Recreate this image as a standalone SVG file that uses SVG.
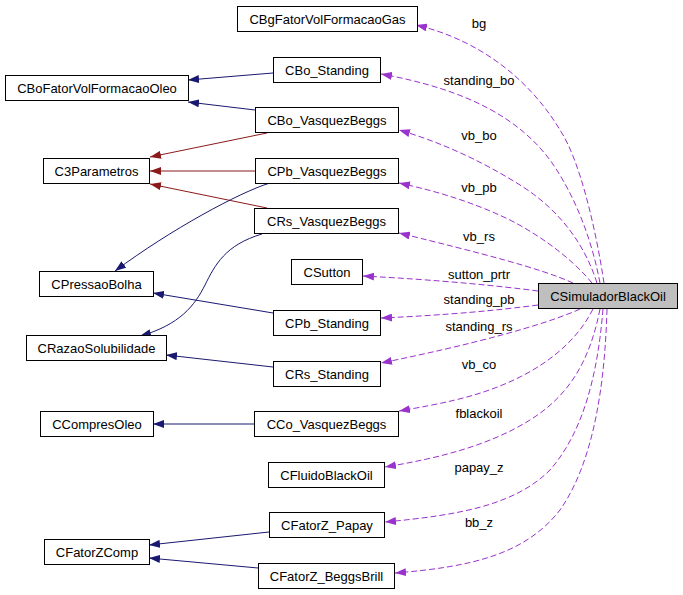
<svg xmlns="http://www.w3.org/2000/svg" width="683" height="595" viewBox="0 0 683 595">
<style>
.node rect{fill:#ffffff;stroke:#000000;stroke-width:1}
.node text{font-family:"Liberation Sans",Arial,sans-serif;font-size:13px;text-anchor:middle;fill:#000000}
.blue{fill:none;stroke:#191970;stroke-width:1;marker-end:url(#ab)}
.red{fill:none;stroke:#8b1a1a;stroke-width:1;marker-end:url(#ar)}
.use{fill:none;stroke:#9a32cd;stroke-width:1;stroke-dasharray:6,3;marker-end:url(#ap)}
.lbl{font-family:"Liberation Sans",Arial,sans-serif;font-size:13px;text-anchor:middle;fill:#000000}
</style>
<defs>
<marker id="ab" viewBox="0 0 11 8" refX="11" refY="4" markerWidth="11" markerHeight="8" markerUnits="userSpaceOnUse" orient="auto"><path d="M0,0 L11,4 L0,8 z" fill="#191970"/></marker>
<marker id="ar" viewBox="0 0 11 8" refX="11" refY="4" markerWidth="11" markerHeight="8" markerUnits="userSpaceOnUse" orient="auto"><path d="M0,0 L11,4 L0,8 z" fill="#8b1a1a"/></marker>
<marker id="ap" viewBox="0 0 11 8" refX="11" refY="4" markerWidth="11" markerHeight="8" markerUnits="userSpaceOnUse" orient="auto"><path d="M0,0 L11,4 L0,8 z" fill="#9a32cd"/></marker>
</defs>
<rect width="683" height="595" fill="#ffffff"/>
<g id="connectors">
<path class="blue" d="M273,73 L188,80"/>
<path class="blue" d="M255,110 L188,102"/>
<path class="red" d="M267,133 L150,157"/>
<path class="red" d="M255,171 L150,171"/>
<path class="red" d="M267,208 L150,184"/>
<path class="blue" d="M270,183 C240,192 170,230 115,271"/>
<path class="blue" d="M262,234 C225,245 215,265 205,285 C195,305 180,325 140,336"/>
<path class="blue" d="M273,313 L153,293"/>
<path class="blue" d="M273,367 L166,355"/>
<path class="blue" d="M254,424 L153,424"/>
<path class="blue" d="M269,532 L149,545"/>
<path class="blue" d="M258,568 L149,558"/>
<path class="use" d="M604,283 C596,230 580,160 560,130 C530,80 480,40 416,25"/>
<path class="use" d="M600,283 C592,240 575,195 550,160 C520,120 470,90 381,74"/>
<path class="use" d="M597,283 C585,245 560,210 520,185 C480,160 440,142 399,130"/>
<path class="use" d="M592,283 C575,262 545,238 510,220 C475,203 440,192 399,183"/>
<path class="use" d="M573,283 C540,268 480,253 399,233"/>
<path class="use" d="M538,291 C500,286 440,280 363,276"/>
<path class="use" d="M538,305 C500,310 450,315 381,318"/>
<path class="use" d="M580,309 C545,325 470,345 381,363"/>
<path class="use" d="M593,309 C575,345 540,370 500,386 C470,398 440,404 399,411"/>
<path class="use" d="M600,309 C590,360 570,395 530,420 C490,445 440,458 385,467"/>
<path class="use" d="M603,309 C598,370 585,430 550,470 C515,505 460,515 385,522"/>
<path class="use" d="M607,309 C605,380 595,460 560,510 C525,555 470,567 395,573"/>
<text class="lbl" x="479" y="28">bg</text>
<text class="lbl" x="479" y="85">standing_bo</text>
<text class="lbl" x="479" y="140">vb_bo</text>
<text class="lbl" x="479" y="192">vb_pb</text>
<text class="lbl" x="479" y="241">vb_rs</text>
<text class="lbl" x="479" y="279">sutton_prtr</text>
<text class="lbl" x="479" y="304">standing_pb</text>
<text class="lbl" x="479" y="331">standing_rs</text>
<text class="lbl" x="479" y="369">vb_co</text>
<text class="lbl" x="479" y="418">fblackoil</text>
<text class="lbl" x="479" y="472">papay_z</text>
<text class="lbl" x="479" y="527">bb_z</text>
</g>
<g id="CBgFatorVolFormacaoGas" class="node"><rect x="237.5" y="6.5" width="180" height="25"/><text x="327.5" y="23.5">CBgFatorVolFormacaoGas</text></g>
<g id="CBo_Standing" class="node"><rect x="273.5" y="57.5" width="107" height="25"/><text x="327" y="74.5">CBo_Standing</text></g>
<g id="CBoFatorVolFormacaoOleo" class="node"><rect x="5.5" y="75.5" width="183" height="25"/><text x="97" y="92.5">CBoFatorVolFormacaoOleo</text></g>
<g id="CBo_VasquezBeggs" class="node"><rect x="255.5" y="107.5" width="143" height="25"/><text x="327" y="124.5">CBo_VasquezBeggs</text></g>
<g id="C3Parametros" class="node"><rect x="43.5" y="158.5" width="106" height="25"/><text x="96.5" y="175.5">C3Parametros</text></g>
<g id="CPb_VasquezBeggs" class="node"><rect x="255.5" y="158.5" width="143" height="25"/><text x="327" y="175.5">CPb_VasquezBeggs</text></g>
<g id="CRs_VasquezBeggs" class="node"><rect x="254.5" y="208.5" width="144" height="25"/><text x="326.5" y="225.5">CRs_VasquezBeggs</text></g>
<g id="CSutton" class="node"><rect x="291.5" y="259.5" width="71" height="25"/><text x="327" y="276.5">CSutton</text></g>
<g id="CPressaoBolha" class="node"><rect x="39.5" y="271.5" width="114" height="25"/><text x="96.5" y="288.5">CPressaoBolha</text></g>
<g id="CSimuladorBlackOil" class="node"><rect x="538.5" y="283.5" width="139" height="25" style="fill:#bfbfbf"/><text x="608" y="300.5">CSimuladorBlackOil</text></g>
<g id="CPb_Standing" class="node"><rect x="273.5" y="310.5" width="107" height="25"/><text x="327" y="327.5">CPb_Standing</text></g>
<g id="CRazaoSolubilidade" class="node"><rect x="26.5" y="335.5" width="140" height="25"/><text x="96.5" y="352.5">CRazaoSolubilidade</text></g>
<g id="CRs_Standing" class="node"><rect x="273.5" y="361.5" width="107" height="25"/><text x="327" y="378.5">CRs_Standing</text></g>
<g id="CCompresOleo" class="node"><rect x="40.5" y="411.5" width="113" height="25"/><text x="97" y="428.5">CCompresOleo</text></g>
<g id="CCo_VasquezBeggs" class="node"><rect x="254.5" y="411.5" width="144" height="25"/><text x="326.5" y="428.5">CCo_VasquezBeggs</text></g>
<g id="CFluidoBlackOil" class="node"><rect x="268.5" y="462.5" width="116" height="25"/><text x="326.5" y="479.5">CFluidoBlackOil</text></g>
<g id="CFatorZ_Papay" class="node"><rect x="269.5" y="512.5" width="115" height="25"/><text x="327" y="529.5">CFatorZ_Papay</text></g>
<g id="CFatorZComp" class="node"><rect x="44.5" y="539.5" width="105" height="25"/><text x="97" y="556.5">CFatorZComp</text></g>
<g id="CFatorZ_BeggsBrill" class="node"><rect x="258.5" y="563.5" width="136" height="25"/><text x="326.5" y="580.5">CFatorZ_BeggsBrill</text></g>
</svg>
